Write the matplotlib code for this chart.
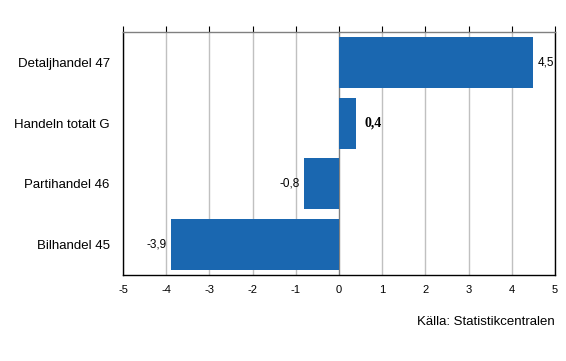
import matplotlib
matplotlib.use("Agg")
import matplotlib.pyplot as plt

# data (bottom to top)
categories = ["Bilhandel 45", "Partihandel 46", "Handeln totalt G", "Detaljhandel 47"]
values = [-3.9, -0.8, 0.4, 4.5]
value_labels = ["-3,9", "-0,8", "0,4", "4,5"]
xticks = [-5, -4, -3, -2, -1, 0, 1, 2, 3, 4, 5]

plt.rcParams["font.family"] = ["Liberation Sans", "DejaVu Sans"]

fig = plt.figure(figsize=(5.66, 3.61), dpi=100)
ax = fig.add_axes([123 / 566, 1 - 275 / 361, 432 / 566, 243 / 361])

ax.barh(range(len(categories)), values, height=0.84, color="#1a67b0", zorder=3)

ax.set_xlim(-5, 5)
ax.set_ylim(-0.5, len(categories) - 0.5)
ax.set_xticks(xticks)
ax.set_xticklabels([str(t) for t in xticks], fontsize=8)
ax.set_yticks(range(len(categories)))
ax.set_yticklabels(categories, fontsize=9.5)

for t in xticks:
    ax.axvline(t, color="#808080" if t == 0 else "#c0c0c0", lw=1, zorder=1)

ax.tick_params(axis="y", length=0, pad=9.5)
ax.tick_params(axis="x", top=True, bottom=False, direction="out", length=4,
               color="black", pad=3)
ax.tick_params(axis="x", labeltop=False)

for s in ax.spines.values():
    s.set_color("black")
    s.set_linewidth(1)
ax.spines["top"].set_color("#808080")

for i, (v, lab) in enumerate(zip(values, value_labels)):
    if v >= 0:
        if i == 2:
            ax.text(v + 0.18, i, lab, ha="left", va="center", fontsize=10,
                    fontweight="bold", family=["Liberation Serif"])
        else:
            ax.text(v + 0.1, i, lab, ha="left", va="center", fontsize=8.5)
    else:
        ax.text(v - 0.1, i, lab, ha="right", va="center", fontsize=8.5)

fig.text(555 / 566, 1 - 322 / 361, "Källa: Statistikcentralen", ha="right",
         va="center", fontsize=9.5)

fig.savefig("out.png", dpi=100)
